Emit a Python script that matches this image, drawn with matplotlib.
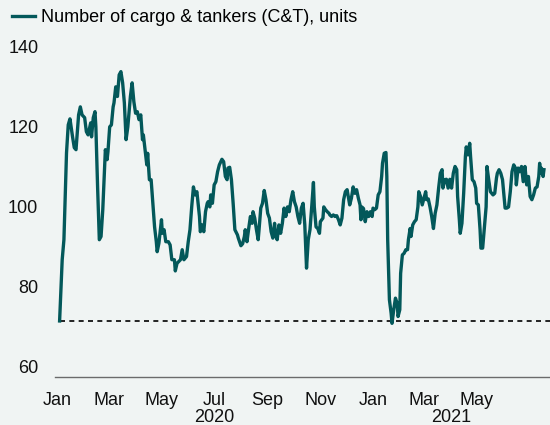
import pandas as pd
import matplotlib
matplotlib.use("Agg")
import matplotlib.pyplot as plt
import matplotlib.dates as mdates
import matplotlib.transforms as mtransforms

# days since 2020-01-01 and the number of cargo & tanker vessels
days = [3, 6, 8, 11, 13, 15, 18, 20, 22, 25, 27, 29, 32, 34, 36, 39, 40, 42, 44, 45,
        47, 49, 51, 53, 55, 56, 58, 59, 61, 63, 65, 66, 68, 70, 72, 74, 76, 78, 80, 82,
        83, 85, 87, 89, 91, 93, 95, 97, 99, 100, 102, 104, 105, 107, 109, 111, 113, 115, 116, 118,
        121, 122, 124, 126, 129, 131, 133, 136, 137, 139, 143, 145, 147, 150, 152, 154, 156, 158, 160, 162,
        165, 166, 168, 170, 172, 174, 175, 177, 178, 180, 182, 184, 186, 188, 191, 193, 195, 197, 198, 200,
        202, 204, 206, 209, 210, 213, 215, 217, 218, 220, 222, 224, 226, 227, 229, 231, 233, 234, 236, 238,
        240, 242, 244, 246, 248, 250, 252, 253, 255, 257, 259, 261, 263, 265, 267, 269, 271, 273, 275, 277,
        279, 281, 283, 285, 287, 289, 291, 293, 295, 297, 298, 300, 302, 304, 305, 308, 309, 311, 313, 315,
        316, 318, 320, 322, 324, 326, 328, 330, 332, 334, 336, 337, 339, 341, 343, 345, 347, 349, 351, 352,
        353, 355, 357, 359, 361, 363, 365, 366, 368, 370, 372, 374, 376, 377, 379, 381, 382, 383, 385, 387,
        388, 390, 392, 394, 395, 397, 398, 400, 402, 404, 406, 407, 409, 410, 412, 414, 416, 418, 419, 421,
        423, 425, 427, 428, 430, 432, 434, 436, 438, 440, 442, 444, 446, 447, 449, 451, 453, 455, 457, 459,
        461, 463, 464, 466, 467, 469, 471, 473, 474, 476, 478, 479, 481, 483, 485, 486, 488, 490, 491, 493,
        495, 497, 498, 500, 502, 505, 507, 509, 510, 512, 514, 516, 519, 521, 523, 525, 527, 529, 531, 532,
        534, 536, 538, 540, 542, 544, 546, 548, 550, 552, 554, 556, 558, 559, 560, 561, 563, 564]

ships = [71.5, 86.8, 91.8, 113.5, 120.5, 122, 117.5, 114.8, 114.3, 123, 125, 123, 122.3, 118.8, 118, 121, 117.5, 122.3, 123.8, 120,
         105, 91.8, 92.6, 99.3, 109.3, 114.3, 111.8, 113.8, 120, 120.5, 125, 126, 130, 127.6, 133, 133.8, 131, 126, 116.8, 120,
         122.6, 127.6, 131, 126.3, 123.4, 123.8, 121.8, 123, 116.8, 118, 114.3, 110.5, 113.4, 106.8, 106.8, 100.9, 95, 91.3, 88.8, 90.9,
         96.8, 93.4, 94.3, 91.3, 91.3, 90.5, 86.8, 86.8, 84, 85.9, 86.8, 89.3, 86.8, 87.6, 91.3, 94.3, 100, 105, 103, 103.8,
         97.6, 93.8, 95.5, 93.8, 98.8, 100.9, 101.3, 100, 103, 100.9, 105.5, 106.3, 108.8, 110.5, 111.9, 111.3, 107.6, 106.8, 109.7, 109.9,
         106.8, 100.9, 94.3, 93, 92.2, 90.3, 90.8, 92.6, 94.3, 91.3, 94.6, 97.6, 95.9, 98.8, 97.2, 94.3, 91.8, 94.3, 99.7, 100.9,
         104.1, 101.8, 98.4, 97.2, 93.8, 92.2, 95.9, 93, 91.8, 95.5, 93.4, 95.9, 99.7, 97.6, 100, 98.8, 101.8, 103.8, 101.3, 100,
         97.6, 95.9, 99.7, 100.9, 95.5, 84.7, 91.8, 94.3, 100, 106.1, 100, 95, 94.6, 93.4, 96.3, 97.2, 100, 99.3, 98.8, 98.4,
         98, 97.6, 98, 97.6, 97.8, 96.8, 95.5, 97.2, 101.8, 103.8, 104.3, 103, 100.5, 102.2, 105, 103.4, 104.3, 102.2, 100.5, 96.8,
         100, 99.6, 96.3, 98.8, 97.6, 98.8, 97.6, 99.7, 99.3, 99.7, 103, 103.8, 107.6, 110.9, 113.4, 113.6, 107.6, 91.8, 76.8, 73.4,
         70.9, 74.3, 77.2, 75.9, 72.6, 74.3, 83.4, 88, 88.4, 89.3, 89.3, 91.8, 94.6, 92.6, 95.5, 96.3, 96.8, 100, 103.8, 102.6,
         100.5, 102.2, 103.8, 101.8, 102, 100, 97.6, 94.6, 98.4, 100.5, 104.7, 108.4, 109.3, 104.7, 106.8, 106.9, 104.7, 106.9, 104.7, 108.4,
         110.1, 109.3, 102.6, 96.8, 93.4, 95.9, 103.4, 112.6, 115, 113, 115.9, 112.6, 106.8, 106.3, 104.7, 100.9, 100.5, 94.3, 89.7, 89.7,
         95, 100, 110.1, 106.8, 103.8, 103, 103.4, 107.2, 108.4, 109.3, 108.4, 106.8, 99.7, 99.7, 100, 103.8, 108.8, 110.5, 109.7, 105.5,
         109.7, 108.8, 110.1, 106.3, 110.1, 105.5, 107.6, 102.6, 101.8, 103, 104.7, 105, 107.6, 110.9, 108.4, 109.7, 107.6, 109.3]

y_ticks = [60, 80, 100, 120, 140]
x_tick_dates = ["2020-01-01", "2020-03-01", "2020-05-01", "2020-07-01", "2020-09-01",
                "2020-11-01", "2021-01-01", "2021-03-01", "2021-05-01"]
year_labels = ["2020", "2021"]
year_label_dates = ["2020-07-01", "2021-04-01"]

BG = "#f0f4f3"
LINE = "#03585a"

plt.rcParams["font.family"] = ["Liberation Sans", "DejaVu Sans"]
plt.rcParams["font.size"] = 13

dates = pd.Timestamp("2020-01-01") + pd.to_timedelta(days, unit="D")

fig = plt.figure(figsize=(5.5, 4.25), dpi=100, facecolor=BG)
ax = fig.add_axes([0.1, 0.113, 0.9, 0.798])
ax.set_facecolor(BG)

x_left = pd.Timestamp("2019-12-29 16:00")
x_right = pd.Timestamp("2021-07-25")

ax.hlines(ships[0], dates[0], x_right, colors="black", linewidth=1.2,
          linestyles=(0, (3, 2.6)), zorder=1)
ax.plot(dates, ships, color=LINE, linewidth=2.4, label="Number of cargo & tankers (C&T), units",
        zorder=2, solid_joinstyle="round")

ax.set_xlim(x_left, x_right)
ax.set_ylim(57.5, 142.25)
ax.set_yticks(y_ticks)

ax.set_xticks(pd.to_datetime(x_tick_dates))
ax.xaxis.set_major_formatter(mdates.DateFormatter("%b"))
ax.tick_params(axis="both", length=0, labelsize=13, colors="#111111")
ax.tick_params(axis="x", pad=11)
ax.tick_params(axis="y", pad=12)

for side in ["top", "right", "left"]:
    ax.spines[side].set_visible(False)
ax.spines["bottom"].set_color("#6b6b6b")
ax.spines["bottom"].set_linewidth(1.0)

trans = mtransforms.blended_transform_factory(ax.transData, ax.transAxes)
for lab, d in zip(year_labels, year_label_dates):
    ax.text(pd.Timestamp(d), -0.119, lab, transform=trans, ha="center", va="center",
            fontsize=13, color="#111111")

fig.legend(loc="upper left", bbox_to_anchor=(0.022, 0.978), frameon=False,
           handlelength=1.25, handletextpad=0.35, borderpad=0, borderaxespad=0,
           fontsize=13)

fig.savefig("out.png", dpi=100, facecolor=BG)
